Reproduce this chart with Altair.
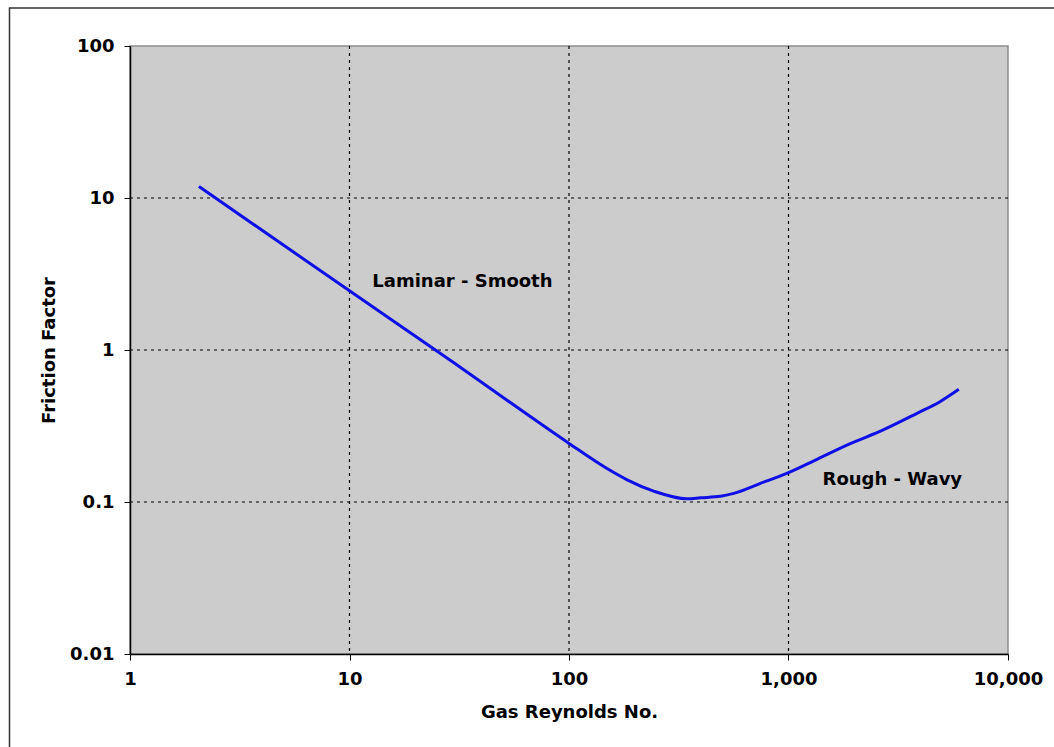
import altair as alt
import pandas as pd

# Friction factor curve against gas Reynolds number
reynolds = [2.06, 10, 30, 74, 100, 149, 184, 243, 345, 397, 490, 563,
            745, 1000, 1350, 1900, 2700, 3850, 4900, 5970]
friction = [11.9, 2.45, 0.82, 0.328, 0.243, 0.166, 0.140, 0.118, 0.105, 0.1066,
            0.109, 0.114, 0.1327, 0.156, 0.191, 0.241, 0.298, 0.383, 0.457, 0.551]

# Axis ticks and interior grid lines
x_ticks = [1, 10, 100, 1000, 10000]
y_ticks = [0.01, 0.1, 1, 10, 100]
x_grid = [10, 100, 1000]
y_grid = [0.1, 1, 10]

# Regime annotations
note_text = ["Laminar - Smooth", "Rough - Wavy"]
note_re = [12.7, 1429]
note_f = [2.8, 0.14]

FONT = "DejaVu Sans"
FS = 18

curve_df = pd.DataFrame({"re": reynolds, "f": friction})
xgrid_df = pd.DataFrame({"re": x_grid})
ygrid_df = pd.DataFrame({"f": y_grid})
notes_df = pd.DataFrame({"text": note_text, "re": note_re, "f": note_f})

x_scale = alt.Scale(type="log", domain=[1, 10000], nice=False)
y_scale = alt.Scale(type="log", domain=[0.01, 100], nice=False)

x_axis = alt.Axis(
    values=x_ticks, format=",d", grid=False, title="Gas Reynolds No.",
    labelFont=FONT, labelFontSize=FS, labelFontWeight="bold", labelColor="black",
    labelPadding=10, labelFlush=False, labelOverlap=False,
    tickColor="black", tickSize=6, tickWidth=1,
    domainColor="black", domainWidth=1.5,
    titleFont=FONT, titleFontSize=FS, titleFontWeight="bold", titleColor="black",
    titleY=63, titleBaseline="alphabetic",
)
y_axis = alt.Axis(
    values=y_ticks, format="~g", grid=False, title="Friction Factor",
    labelFont=FONT, labelFontSize=FS, labelFontWeight="bold", labelColor="black",
    labelPadding=10, labelFlush=False, labelOverlap=False,
    tickColor="black", tickSize=6, tickWidth=1,
    domainColor="black", domainWidth=1.5,
    titleFont=FONT, titleFontSize=FS, titleFontWeight="bold", titleColor="black",
    titleX=-76, titleY=304, titleBaseline="alphabetic", titleAlign="center",
)

# Outer frame around the whole figure
frame = alt.Chart(pd.DataFrame({"k": [0]})).mark_rect(
    fill=None, stroke="#333333", strokeWidth=1.5
).encode(
    x=alt.value(-120.5), x2=alt.value(950),
    y=alt.value(-38), y2=alt.value(730),
)

vgrid = alt.Chart(xgrid_df).mark_rule(
    color="black", strokeDash=[3, 4], strokeWidth=1.2
).encode(x=alt.X("re:Q", scale=x_scale, axis=x_axis))

hgrid = alt.Chart(ygrid_df).mark_rule(
    color="black", strokeDash=[3, 4], strokeWidth=1.2
).encode(y=alt.Y("f:Q", scale=y_scale, axis=y_axis))

line = alt.Chart(curve_df).mark_line(
    color="#1010e6", strokeWidth=3, interpolate="monotone"
).encode(
    x=alt.X("re:Q", scale=x_scale, axis=x_axis),
    y=alt.Y("f:Q", scale=y_scale, axis=y_axis),
)

notes = alt.Chart(notes_df).mark_text(
    font=FONT, fontSize=FS, fontWeight="bold", color="black",
    align="left", baseline="middle"
).encode(
    x=alt.X("re:Q", scale=x_scale, axis=x_axis),
    y=alt.Y("f:Q", scale=y_scale, axis=y_axis),
    text="text:N",
)

chart = alt.layer(frame, vgrid, hgrid, line, notes).properties(
    width=878, height=608,
    padding={"left": 130, "top": 46, "right": 46, "bottom": 93},
    autosize=alt.AutoSizeParams(type="none"),
    background="white",
).configure_view(
    fill="#cccccc", stroke="#8c8c8c", strokeWidth=1.5
)

chart.save("out.html", embed_options={"renderer": "svg", "actions": False})
